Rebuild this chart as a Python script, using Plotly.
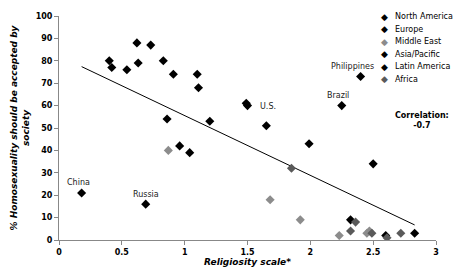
import numpy as np
import plotly.graph_objects as go

# Religiosity scale (x) and % saying homosexuality should be accepted (y)
na_x = [1.50, 1.11]
na_y = [60, 68]
eu_x = [0.40, 0.42, 0.54, 0.62, 0.63, 0.73, 0.83, 0.91, 1.10, 1.20, 0.69, 0.96, 1.04, 1.49, 1.65]
eu_y = [80, 77, 76, 88, 79, 87, 80, 74, 74, 53, 16, 42, 39, 61, 51]
me_x = [0.87, 1.68, 1.92, 2.23, 2.45, 2.47]
me_y = [40, 18, 9, 2, 3, 4]
ap_x = [0.18, 0.86, 2.40, 2.32, 2.60, 2.83]
ap_y = [21, 54, 73, 9, 2, 3]
la_x = [2.25, 1.99, 2.50]
la_y = [60, 43, 34]
af_x = [1.85, 2.36, 2.32, 2.49, 2.61, 2.72]
af_y = [32, 8, 4, 3, 1, 3]

regions = ["North America", "Europe", "Middle East", "Asia/Pacific", "Latin America", "Africa"]
colors = ["#000000", "#000000", "#8c8c8c", "#000000", "#000000", "#5a5a5a"]
xs = [na_x, eu_x, me_x, ap_x, la_x, af_x]
ys = [na_y, eu_y, me_y, ap_y, la_y, af_y]

labels = ["China", "Russia", "Philippines", "Brazil", "U.S."]
label_x = [0.18, 0.69, 2.40, 2.25, 1.50]
label_y = [21, 16, 73, 60, 60]

x_ticks = [0, 0.5, 1, 1.5, 2, 2.5, 3]
x_tick_text = ["0", "0.5", "1", "1.5", "2", "2.5", "3"]
y_ticks = list(range(0, 101, 10))

FONT = "DejaVu Sans"
W, H = 454, 267
ML, MR, MT, MB = 59, 18, 16, 27
PW, PH = W - ML - MR, H - MT - MB


def px_to_paper(px, py):
    return (px - ML) / PW, (H - MB - py) / PH


fig = go.Figure()

# trend line (least squares over all points)
all_x = np.array(sum(xs, []))
all_y = np.array(sum(ys, []))
slope, intercept = np.polyfit(all_x, all_y, 1)
tx = np.array([all_x.min(), all_x.max()])
fig.add_trace(go.Scatter(x=tx, y=slope * tx + intercept, mode="lines",
                         line=dict(color="#000000", width=1), showlegend=False,
                         hoverinfo="skip"))

for name, c, x, y in zip(regions, colors, xs, ys):
    fig.add_trace(go.Scatter(x=x, y=y, mode="markers", name=name, showlegend=False,
                             marker=dict(symbol="diamond", size=7, color=c,
                                         line=dict(width=0))))

ann = []
offsets = {"China": (-3, 10, "center"), "Russia": (0, 10, "center"),
           "Philippines": (-8, 10, "center"), "Brazil": (-4, 10, "center"),
           "U.S.": (10, -1, "left")}
for t, lx, ly in zip(labels, label_x, label_y):
    dx, dy, al = offsets[t]
    ann.append(dict(x=lx, y=ly, text=t, showarrow=False, xshift=dx, yshift=dy,
                    xanchor=al, font=dict(family=FONT, size=8, color="#222222")))

# legend drawn as text
for i, (name, c) in enumerate(zip(regions, colors)):
    py = 16.7 + i * 12.5
    mx, my = px_to_paper(384, py)
    tx_, _ = px_to_paper(393, py)
    ann.append(dict(x=mx, y=my, xref="paper", yref="paper", text="◆", showarrow=False,
                    xanchor="center", yanchor="middle",
                    font=dict(family=FONT, size=9, color=c)))
    ann.append(dict(x=tx_, y=my, xref="paper", yref="paper", text=name, showarrow=False,
                    xanchor="left", yanchor="middle",
                    font=dict(family=FONT, size=8, color="#000000")))

cx, cy = px_to_paper(422, 120)
ann.append(dict(x=cx, y=cy, xref="paper", yref="paper", xanchor="center", yanchor="middle",
                text="<b>Correlation:</b><br><b>-0.7</b>", showarrow=False, align="center",
                font=dict(family=FONT, size=8, color="#000000")))

fig.update_layout(
    width=W, height=H,
    margin=dict(l=ML, r=MR, t=MT, b=MB, autoexpand=False),
    paper_bgcolor="white", plot_bgcolor="white",
    font=dict(family=FONT, size=8, color="#000000"),
    showlegend=False,
    annotations=ann,
    xaxis=dict(range=[0, 3], tickvals=x_ticks, ticktext=x_tick_text,
               showgrid=False, zeroline=False, showline=True, linecolor="#888888", linewidth=1,
               ticks="outside", ticklen=4, tickcolor="#888888",
               tickfont=dict(family=FONT, size=8, weight="bold"),
               title=dict(text="Religiosity scale*", standoff=0,
                          font=dict(family=FONT, size=9, weight="bold", style="italic"))),
    yaxis=dict(range=[0, 100], tickvals=y_ticks,
               showgrid=False, zeroline=False, showline=True, linecolor="#888888", linewidth=1,
               ticks="outside", ticklen=4, tickcolor="#888888",
               tickfont=dict(family=FONT, size=8, weight="bold"),
               title=dict(text="% Homosexuality should be accepted by<br>society", standoff=4,
                          font=dict(family=FONT, size=9, weight="bold", style="italic"))),
)

fig.write_html("out.html", config={"displayModeBar": False},
               post_script="document.body.style.margin='0';document.body.style.overflow='hidden';")
